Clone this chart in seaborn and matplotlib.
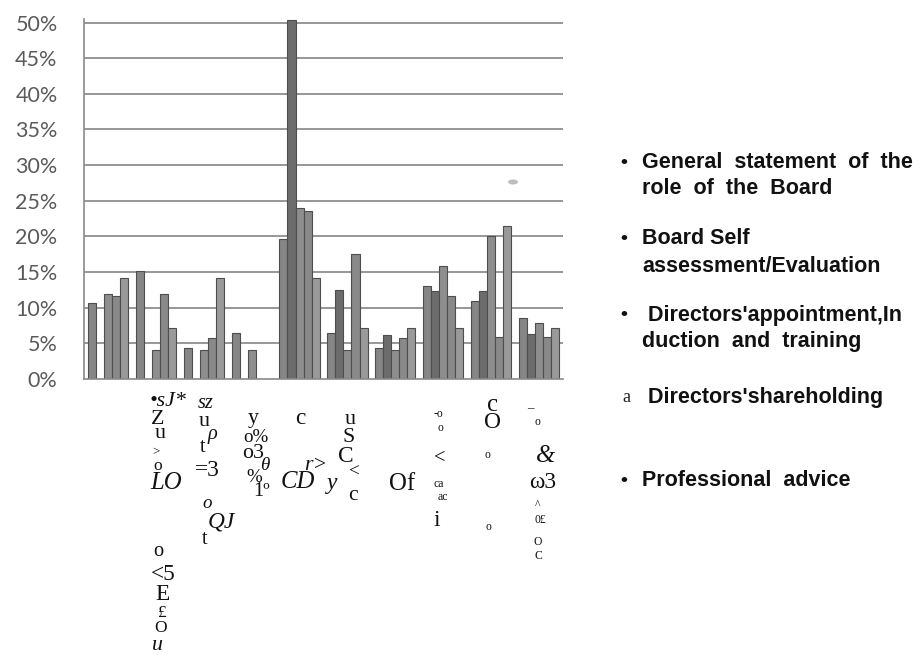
import matplotlib
matplotlib.use("Agg")
import matplotlib.pyplot as plt
import seaborn as sns
import pandas as pd
from matplotlib.patches import Ellipse

# ---- data ----
groups = [f"G{i}" for i in range(1, 11)]
series = ["General statement of the role of the Board",
          "Board Self assessment/Evaluation",
          "Directors'appointment,Induction and training",
          "Directors'shareholding",
          "Professional advice"]
s1 = [10.7, 15.2, 4.3, 6.4, 19.6, 6.5, 4.3, 13.0, 10.9, 8.6]
s2 = [0.0, 0.0, 0.0, 0.0, 50.3, 12.5, 6.2, 12.4, 12.4, 6.3]
s3 = [11.9, 4.0, 4.0, 4.0, 24.0, 4.1, 4.0, 15.9, 20.0, 7.9]
s4 = [11.7, 11.9, 5.8, 0.0, 23.6, 17.6, 5.8, 11.7, 5.9, 5.9]
s5 = [14.2, 7.1, 14.2, 0.0, 14.2, 7.1, 7.1, 7.1, 21.4, 7.1]
ytick_vals = [0, 5, 10, 15, 20, 25, 30, 35, 40, 45, 50]
ytick_labels = [f"{v}%" for v in ytick_vals]

legend_lines = [["General  statement  of  the", "role  of  the  Board"],
                ["Board Self", "assessment/Evaluation"],
                [" Directors'appointment,In", "duction  and  training"],
                [" Directors'shareholding"],
                ["Professional  advice"]]
legend_marks = ["•", "•", "•", "a", "•"]

# garbled scanned axis labels (text, x px, y px, size, style)
ocr_bits = [
    ("•sJ*", 168, 402, 15, "italic"), ("Z", 158, 419, 15, "normal"),
    ("u", 160, 434, 15, "normal"), (">", 156, 452, 9, "normal"),
    ("o", 158, 466, 12, "normal"), ("LO", 166, 483, 17, "italic"),
    ("sz", 206, 404, 14, "italic"), ("u", 204, 421, 15, "normal"),
    ("ρ", 212, 434, 14, "italic"), ("t", 203, 447, 14, "normal"),
    ("=3", 207, 470, 16, "normal"),
    ("y", 253, 419, 15, "normal"), ("o%", 256, 437, 13, "normal"),
    ("ο3", 253, 454, 15, "normal"), ("θ", 265, 466, 13, "italic"),
    ("%", 254, 478, 13, "normal"), ("1º", 262, 491, 14, "normal"),
    ("CD", 298, 482, 17, "italic"), ("c", 300, 419, 16, "normal"),
    ("r>", 316, 466, 15, "italic"),
    ("u", 350, 419, 15, "normal"), ("S", 349, 438, 15, "normal"),
    ("C", 346, 456, 16, "normal"), ("y", 332, 483, 16, "italic"),
    ("<", 354, 472, 13, "normal"), ("c", 353, 496, 15, "normal"),
    ("Of", 402, 484, 17, "normal"),
    ("-o", 438, 414, 8, "normal"), ("o", 440, 428, 8, "normal"),
    ("<", 440, 458, 14, "normal"), ("ca", 439, 484, 8, "normal"),
    ("ac", 443, 497, 8, "normal"), ("i", 437, 520, 16, "normal"),
    ("c", 492, 405, 17, "normal"), ("O", 492, 423, 16, "normal"),
    ("o", 487, 455, 8, "normal"), ("o", 488, 527, 8, "normal"),
    ("_", 530, 404, 9, "normal"), ("o", 537, 422, 8, "normal"),
    ("&", 546, 456, 17, "italic"), ("ω3", 543, 483, 16, "normal"),
    ("^", 538, 505, 8, "normal"), ("0£", 540, 520, 8, "normal"),
    ("O", 538, 542, 8, "normal"), ("C", 538, 556, 8, "normal"),
    ("o", 207, 503, 13, "italic"), ("QJ", 221, 522, 16, "italic"),
    ("t", 205, 539, 14, "normal"),
    ("o", 158, 552, 14, "normal"), ("<5", 163, 574, 16, "normal"),
    ("E", 162, 595, 16, "normal"), ("£", 161, 613, 12, "normal"),
    ("O", 161, 628, 12, "normal"), ("u", 157, 645, 15, "italic"),
]

# ---- figure ----
W, H = 921, 655
sns.set_theme(style="white")
plt.rcParams["font.family"] = ["Lato", "DejaVu Sans"]
fig = plt.figure(figsize=(W / 100, H / 100), dpi=100)
fig.patch.set_facecolor("white")

def fx(x):
    return x / W

def fy(y):
    return 1 - y / H

ax = fig.add_axes([fx(84), fy(379), fx(563) - fx(84), fy(19) - fy(379)])

rows = []
for name, vals in zip(series, [s1, s2, s3, s4, s5]):
    for g, v in zip(groups, vals):
        rows.append({"group": g, "series": name, "value": v})
df = pd.DataFrame(rows)

palette = ["#868686", "#6c6c6c", "#8e8e8e", "#898989", "#9a9a9a"]
sns.barplot(data=df, x="group", y="value", hue="series", palette=palette,
            width=0.84, gap=0, edgecolor="#4e4e4e", linewidth=0.8,
            saturation=1, legend=False, ax=ax)

ax.set_ylim(0, 50.5)
ax.set_xlim(-0.5, 9.5)
ax.set_yticks(ytick_vals)
ax.set_yticklabels(ytick_labels, color="#5a5a5a", fontsize=15.5)
ax.set_xticks([i - 0.5 for i in range(11)])
ax.set_xticklabels([""] * 11)
ax.set_xlabel("")
ax.set_ylabel("")
for v in ytick_vals[1:]:
    ax.axhline(v, color="#858585", lw=1.2, zorder=0)
ax.set_axisbelow(True)
for s in ["top", "right"]:
    ax.spines[s].set_visible(False)
for s in ["left", "bottom"]:
    ax.spines[s].set_color("#8a8a8a")
    ax.spines[s].set_linewidth(1.2)
ax.tick_params(axis="y", direction="out", length=9, width=1, color="#8a8a8a", pad=10)
ax.tick_params(axis="x", direction="out", length=6, width=1, color="#8a8a8a")

# small smudge in the scan
fig.patches.append(Ellipse((fx(513), fy(182)), 10 / W, 5 / H, transform=fig.transFigure,
                           facecolor="#bdbdbd", edgecolor="none"))

# legend drawn as text (bulleted list on the right)
item_y = [[162, 189], [238, 267], [315, 342], [398], [480]]
for mark, lines, ys in zip(legend_marks, legend_lines, item_y):
    if mark == "a":
        fig.text(fx(622), fy(ys[0]), mark, fontsize=13, family=["Liberation Serif"],
                 va="center", ha="left", color="#222222")
    else:
        fig.text(fx(620), fy(ys[0]), mark, fontsize=14, family=["Liberation Sans"],
                 fontweight="bold", va="center", ha="left", color="#111111")
    for i, (line, y) in enumerate(zip(lines, ys)):
        fig.text(fx(642), fy(y), line, fontsize=15.5, family=["Liberation Sans"],
                 fontweight="bold", va="center", ha="left", color="#111111")

for txt, x, y, size, style in ocr_bits:
    fig.text(fx(x), fy(y), txt, fontsize=size * 1.05, family=["Liberation Serif", "DejaVu Serif"],
             style=style, ha="center", va="center", color="#111111")

fig.savefig("out.png", dpi=100, facecolor="white")
